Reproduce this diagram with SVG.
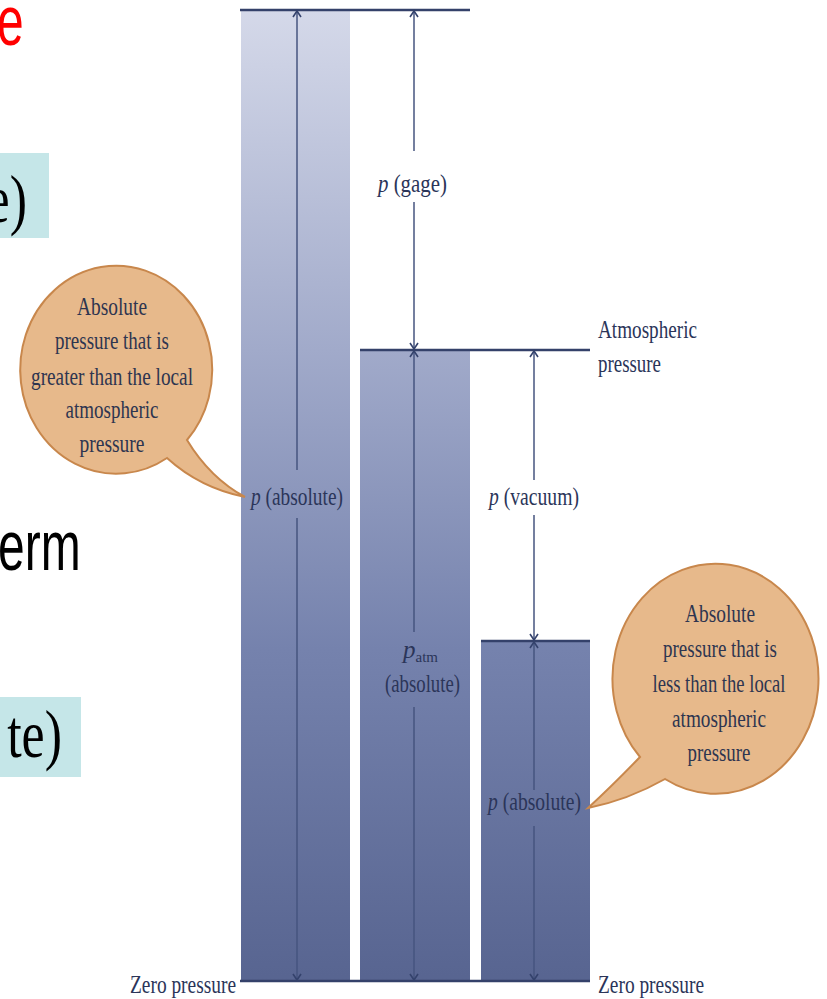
<svg xmlns="http://www.w3.org/2000/svg" width="827" height="999" viewBox="0 0 827 999">
<defs>
<linearGradient id="barGrad" gradientUnits="userSpaceOnUse" x1="0" y1="0" x2="0" y2="999">
<stop offset="0" stop-color="#d6daea"/>
<stop offset="0.35" stop-color="#a1aaca"/>
<stop offset="0.65" stop-color="#7582ad"/>
<stop offset="1" stop-color="#56638f"/>
</linearGradient>
<marker id="chev" markerUnits="userSpaceOnUse" markerWidth="12" markerHeight="12" refX="0" refY="0" viewBox="-8 -6 10 12" orient="auto-start-reverse" overflow="visible">
<path d="M-6,-4 L0,0 L-6,4" fill="none" stroke="#34426c" stroke-width="1.6"/>
</marker>
<style>
.bar{fill:url(#barGrad);}
.hline{stroke:#34416a;stroke-width:2.5;fill:none;}
.dim{stroke:#46557f;stroke-width:1.5;fill:none;}
.lbl{font-family:"Liberation Serif","DejaVu Serif",serif;font-size:25px;fill:#2b3559;}
.it{font-style:italic;}
.call{fill:#e7b98b;stroke:#c8874c;stroke-width:2;}
.ctx{font-family:"Liberation Serif","DejaVu Serif",serif;font-size:25px;fill:#2e3550;text-anchor:middle;}
.box{fill:#c5e6e8;}
.big{font-family:"Liberation Serif","Times New Roman",serif;font-size:52px;fill:#000;}
.sans{font-family:"Liberation Sans",Arial,sans-serif;font-size:48px;}
</style>
</defs>

<g id="slide-text">
<text class="sans" fill="#ff0000" transform="translate(-3,45) scale(1,1.45)">e</text>
<text class="sans" fill="#000000" transform="translate(-2,570) scale(1,1.45)">erm</text>
</g>

<g id="box1">
<rect class="box" x="0" y="153" width="49" height="85"/>
<text class="big" text-anchor="end" transform="translate(27,222) scale(1,1.3)">e)</text>
</g>
<g id="box2">
<rect class="box" x="0" y="697" width="81" height="80"/>
<text class="big" text-anchor="end" transform="translate(62,757) scale(1,1.3)">te)</text>
</g>

<g id="bar-absolute">
<rect class="bar" x="241" y="10" width="109" height="971"/>
</g>
<g id="bar-atm">
<rect class="bar" x="360" y="350" width="110" height="631"/>
</g>
<g id="bar-vacuum">
<rect class="bar" x="481" y="641" width="109" height="340"/>
</g>

<g id="connectors">
<line class="hline" x1="240" y1="10" x2="470" y2="10"/>
<line class="hline" x1="360" y1="350" x2="590" y2="350"/>
<line class="hline" x1="481" y1="641" x2="590" y2="641"/>
<line class="hline" x1="240" y1="981" x2="590" y2="981" stroke-width="3"/>
<line class="dim" x1="297" y1="470" x2="297" y2="11" marker-end="url(#chev)"/>
<line class="dim" x1="297" y1="518" x2="297" y2="980" marker-end="url(#chev)"/>
<line class="dim" x1="414" y1="151" x2="414" y2="11" marker-end="url(#chev)"/>
<line class="dim" x1="414" y1="202" x2="414" y2="349" marker-end="url(#chev)"/>
<line class="dim" x1="414" y1="632" x2="414" y2="351" marker-end="url(#chev)"/>
<line class="dim" x1="414" y1="707" x2="414" y2="980" marker-end="url(#chev)"/>
<line class="dim" x1="534" y1="480" x2="534" y2="351" marker-end="url(#chev)"/>
<line class="dim" x1="534" y1="515" x2="534" y2="640" marker-end="url(#chev)"/>
<line class="dim" x1="534" y1="790" x2="534" y2="642" marker-end="url(#chev)"/>
<line class="dim" x1="534" y1="826" x2="534" y2="980" marker-end="url(#chev)"/>
</g>

<g id="labels">
<text class="lbl" x="378" y="192" textLength="69" lengthAdjust="spacingAndGlyphs"><tspan class="it">p</tspan> (gage)</text>
<text class="lbl" x="251" y="505" textLength="92" lengthAdjust="spacingAndGlyphs"><tspan class="it">p</tspan> (absolute)</text>
<text class="lbl" x="489" y="505" textLength="90" lengthAdjust="spacingAndGlyphs"><tspan class="it">p</tspan> (vacuum)</text>
<text class="lbl it" x="403" y="658">p<tspan font-size="15" font-style="normal" dy="4">atm</tspan></text>
<text class="lbl" x="385" y="692" textLength="75" lengthAdjust="spacingAndGlyphs">(absolute)</text>
<text class="lbl" x="488" y="810" textLength="93" lengthAdjust="spacingAndGlyphs"><tspan class="it">p</tspan> (absolute)</text>
<text class="lbl" x="598" y="338" textLength="99" lengthAdjust="spacingAndGlyphs">Atmospheric</text>
<text class="lbl" x="598" y="372" textLength="63" lengthAdjust="spacingAndGlyphs">pressure</text>
<text class="lbl" x="130" y="993" textLength="106" lengthAdjust="spacingAndGlyphs">Zero pressure</text>
<text class="lbl" x="598" y="993" textLength="106" lengthAdjust="spacingAndGlyphs">Zero pressure</text>
</g>

<g id="callout-greater">
<path class="call" d="M187,440 A96,104 0 1,0 167,458 Q200,488 245,497 Q210,478 187,440 Z"/>
<text class="ctx" x="112" y="315" textLength="70" lengthAdjust="spacingAndGlyphs">Absolute</text>
<text class="ctx" x="112" y="349" textLength="114" lengthAdjust="spacingAndGlyphs">pressure that is</text>
<text class="ctx" x="112" y="385" textLength="162" lengthAdjust="spacingAndGlyphs">greater than the local</text>
<text class="ctx" x="112" y="418" textLength="93" lengthAdjust="spacingAndGlyphs">atmospheric</text>
<text class="ctx" x="112" y="452" textLength="65" lengthAdjust="spacingAndGlyphs">pressure</text>
</g>

<g id="callout-less">
<path class="call" d="M665,779 A103,115 0 1,0 640,757 Q612,786 588,808 Q628,800 665,779 Z"/>
<text class="ctx" x="720" y="622" textLength="70" lengthAdjust="spacingAndGlyphs">Absolute</text>
<text class="ctx" x="720" y="657" textLength="114" lengthAdjust="spacingAndGlyphs">pressure that is</text>
<text class="ctx" x="719" y="692" textLength="133" lengthAdjust="spacingAndGlyphs">less than the local</text>
<text class="ctx" x="719" y="727" textLength="94" lengthAdjust="spacingAndGlyphs">atmospheric</text>
<text class="ctx" x="719" y="761" textLength="63" lengthAdjust="spacingAndGlyphs">pressure</text>
</g>
</svg>
